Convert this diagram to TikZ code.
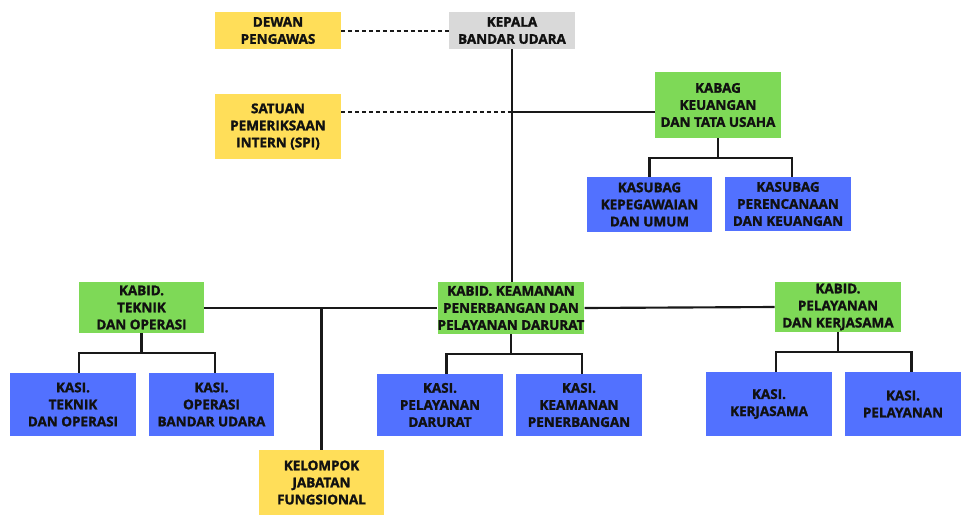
\documentclass[tikz,border=0pt]{standalone}
\usepackage{fontspec}
\setmainfont{Open Sans}[BoldFont={Open Sans Bold}, BoldFeatures={FakeBold=1.5}]
\usetikzlibrary{calc}
\definecolor{cyellow}{HTML}{FFDE59}
\definecolor{cgreen}{HTML}{7ED957}
\definecolor{cblue}{HTML}{5271FF}
\definecolor{cgray}{HTML}{D9D9D9}
\definecolor{ctext}{HTML}{111111}
\tikzset{
  rbox/.style n args={2}{rectangle, inner sep=0pt, align=center,
    minimum width=#1*0.75pt, minimum height=#2*0.75pt,
    font=\fontsize{10.1}{12.8}\selectfont\bfseries, text=ctext},
  ybox/.style={fill=cyellow},
  gbox/.style={fill=cgreen},
  bbox/.style={fill=cblue},
  greybox/.style={fill=cgray},
  link/.style={line width=1.6pt, draw=black!90},
  dlink/.style={line width=1.5pt, draw=black!90, dash pattern=on 3pt off 2.2pt}
}
\begin{document}
\begin{tikzpicture}[x=0.75pt,y=-0.75pt]
\fill[white] (0,0) rectangle (961,518);
\useasboundingbox (0,0) rectangle (961,518);

% nodes
\node[rbox={126}{37},ybox] (dewan) at (278,30.5) {DEWAN\\PENGAWAS};
\node[rbox={126}{37},greybox] (kepala) at (512,30.5) {KEPALA\\BANDAR UDARA};
\node[rbox={126}{65},ybox] (spi) at (278,126.5) {SATUAN\\PEMERIKSAAN\\INTERN (SPI)};
\node[rbox={126}{66},gbox] (kabag) at (718,105) {KABAG\\KEUANGAN\\DAN TATA USAHA};
\node[rbox={125}{55},bbox] (kepeg) at (649.5,204.5) {KASUBAG\\KEPEGAWAIAN\\DAN UMUM};
\node[rbox={126}{54},bbox] (peren) at (788,204) {KASUBAG\\PERENCANAAN\\DAN KEUANGAN};

\node[rbox={125}{51},gbox] (kteknik) at (141.5,307.5) {KABID.\\TEKNIK\\DAN OPERASI};
\node[rbox={146}{52},gbox] (kamanan) at (511,308) {KABID. KEAMANAN\\PENERBANGAN DAN\\PELAYANAN DARURAT};
\node[rbox={126}{50},gbox] (kpelay) at (838,307) {KABID.\\PELAYANAN\\DAN KERJASAMA};

\node[rbox={126}{63},bbox] (kasi1) at (73,404.5) {KASI.\\TEKNIK\\DAN OPERASI};
\node[rbox={125}{63},bbox] (kasi2) at (211.5,404.5) {KASI.\\OPERASI\\BANDAR UDARA};
\node[rbox={126}{62},bbox] (kasi3) at (440,405) {KASI.\\PELAYANAN\\DARURAT};
\node[rbox={126}{62},bbox] (kasi4) at (579,405) {KASI.\\KEAMANAN\\PENERBANGAN};
\node[rbox={126}{64},bbox] (kasi5) at (769,404) {KASI.\\KERJASAMA};
\node[rbox={116}{64},bbox] (kasi6) at (903,404) {KASI.\\PELAYANAN};

\node[rbox={125}{65},ybox] (kelompok) at (321.5,482.5) {KELOMPOK\\JABATAN\\FUNGSIONAL};

% junction coordinates
\coordinate (j1) at (512,112);
\coordinate (j2) at (321.5,308);

% dashed staff links
\draw[dlink] (dewan.east) -- (kepala.west);
\draw[dlink] (spi.east |- j1) -- (j1);

% main spine
\draw[link] (kepala.south) -- (kepala.south |- kamanan.north);
\draw[link] (j1) -- (j1 -| kabag.west);
\draw[link] (kteknik.east |- j2) -- (kamanan.west |- j2);
\draw[link] (j2) -- (kelompok.north);
\draw[link] (kamanan.east) -- (kpelay.west);

% sub trees
\draw[link] (kabag.south) -- ++(0,20) coordinate (t1);
\draw[link] (kepeg.north) |- (t1) -| ($(peren.north)+(4,0)$);

\draw[link] (kteknik.south) -- ++(0,20) coordinate (t2);
\draw[link] ($(kasi1.north)+(6,0)$) |- (t2) -| ($(kasi2.north)+(3.5,0)$);

\draw[link] (kamanan.south) -- ++(0,20) coordinate (t3);
\draw[link] ($(kasi3.north)+(6.5,0)$) |- (t3) -| ($(kasi4.north)+(3,0)$);

\draw[link] (kpelay.south) -- ++(0,20) coordinate (t4);
\draw[link] ($(kasi5.north)+(7,0)$) |- (t4) -| ($(kasi6.north)+(8.5,0)$);
\end{tikzpicture}
\end{document}
